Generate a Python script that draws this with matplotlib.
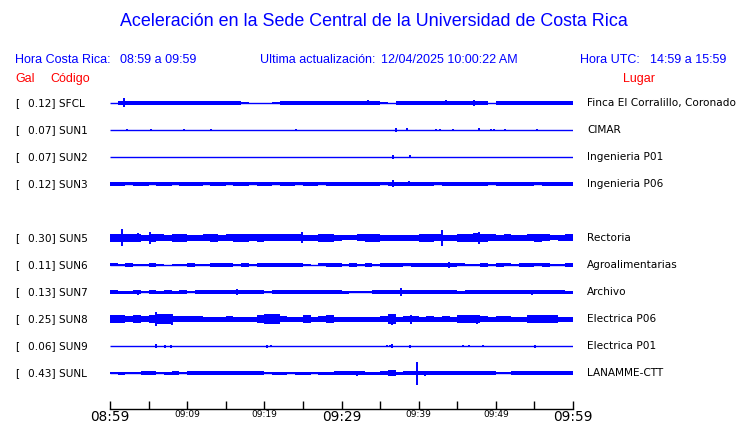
import numpy as np
import matplotlib
matplotlib.use("Agg")
import matplotlib.pyplot as plt
from matplotlib.transforms import blended_transform_factory

# ---------------- data ----------------
codes = ["SFCL", "SUN1", "SUN2", "SUN3", None, "SUN5", "SUN6", "SUN7", "SUN8", "SUN9", "SUNL"]
gal = [0.12, 0.07, 0.07, 0.12, None, 0.30, 0.11, 0.13, 0.25, 0.06, 0.43]
places = ["Finca El Corralillo, Coronado", "CIMAR", "Ingenieria P01", "Ingenieria P06", None,
          "Rectoria", "Agroalimentarias", "Archivo", "Electrica P06", "Electrica P01", "LANAMME-CTT"]

tick_minutes = [0, 10, 20, 30, 40, 50, 60]
tick_labels = ["08:59", "09:09", "09:19", "09:29", "09:39", "09:49", "09:59"]
big_ticks = ["08:59", "09:29", "09:59"]

# per-minute envelope (half amplitude, relative units) for each station
env_SFCL = [0, 2, 2, 2, 2, 1.7, 2, 2, 1.7, 2, 1.7, 2, 2, 1.7, 2, 2, 1.7, 1, 0, 0,
            0, 1, 2, 2, 2, 1.7, 2, 2, 2, 2, 1.7, 2, 2, 2, 2, 0.6, 0, 2, 2, 2,
            2, 2, 2, 2, 2, 2, 2, 2, 2, 0, 1.7, 2, 2, 2, 2, 2, 2, 2, 2, 2]
env_SUN1 = [0] * 60
env_SUN2 = [0] * 60
env_SUN3 = [1.8, 1.8, 1.5, 1.8, 1.8, 1.5, 1.8, 1.8, 1.5, 1.8, 1.8, 1.8, 1.5, 1.8, 1.8, 1.5, 1.8, 1.8, 1.5, 1.8,
            1.8, 1.5, 1.8, 1.8, 1.5, 1.8, 1.8, 1.5, 1.8, 1.8, 1.8, 1.8, 1.8, 1.8, 1.8, 1.5, 1.8, 1.8, 1.8, 1.8,
            1.8, 1.8, 1.5, 1.8, 1.8, 1.8, 1.8, 1.8, 1.8, 1.5, 1.8, 1.8, 1.8, 1.8, 1.8, 1.5, 1.8, 1.8, 1.8, 1.8]
env_SUN5 = [4, 4, 4, 4, 3, 4, 3.5, 3, 4, 4, 3, 3, 3.5, 4, 3, 3.5, 4, 4, 3.5, 4,
            3.5, 3.5, 3.5, 3.5, 3.5, 3, 3, 4, 4, 3, 2.5, 2.5, 3.5, 4, 4, 3, 3, 3, 3, 3,
            4, 4, 3.5, 3, 3, 4, 4, 4.5, 4, 3.5, 3, 3.5, 3, 3, 3.5, 4, 3.5, 2.5, 3, 3.5]
env_SUN6 = [1.5, 1.3, 1.7, 1.1, 1.1, 1.7, 1.4, 0, 1.4, 1.1, 1.7, 1, 1, 2, 1.7, 1.7, 1.3, 2, 1.3, 1.7,
            2, 1.7, 1.7, 1.7, 2, 1.3, 0, 1.5, 2, 2, 1.1, 2, 1, 1.7, 1, 1.7, 1.7, 2, 1.5, 1.7,
            2, 1.7, 2, 1.7, 1.7, 1.5, 1.3, 1.3, 1.7, 1.3, 1.7, 1.5, 1.1, 2, 2, 1.5, 1.7, 1, 1.1, 2]
env_SUN7 = [1.9, 1.5, 1.5, 1.9, 1.4, 1.9, 1.5, 1.9, 1.5, 1.9, 1.3, 1.9, 1.7, 1.7, 1.9, 1.9, 1.9, 1.9, 1.9, 1.9,
            0.8, 1.9, 1.9, 1.9, 1.9, 1.9, 1.9, 1.9, 1.9, 1.9, 1.5, 1.3, 1.4, 1.4, 1.9, 1.9, 1.6, 1.9, 1.9, 1.9,
            1.9, 1.9, 1.9, 1.9, 1.9, 1.5, 1.9, 1.9, 1.9, 1.9, 1.9, 1.9, 1.9, 1.9, 1.9, 1.9, 1.9, 1.9, 1.9, 1.5]
env_SUN8 = [3.8, 3.8, 2.8, 3.8, 2.8, 3.8, 4.7, 4.7, 3.3, 3.3, 3.3, 3.3, 2.5, 2.5, 2.5, 3.3, 2.5, 2.5, 2.5, 4.2,
            4.7, 4.7, 3.3, 2.5, 2.5, 3.8, 2.5, 3.3, 3.8, 2.5, 2.5, 2.5, 2.5, 2.5, 2.5, 3.3, 4.7, 2.5, 3.3, 3.3,
            2.5, 3.3, 2.5, 3.3, 2.5, 4.2, 4.2, 4.2, 3.3, 2.5, 3.3, 3.3, 2.5, 2.5, 4.2, 4.2, 3.8, 3.8, 2.5, 2.5]
env_SUN9 = [0] * 60
env_SUNL = [1.3, 1.5, 1.3, 1.2, 1.8, 1.8, 1.2, 1.5, 1.8, 1.3, 1.8, 1.8, 1.8, 1.8, 1.8, 1.8, 1.8, 1.8, 1.8, 1.8,
            1.2, 1.5, 1.5, 1.3, 1.5, 1.5, 1.3, 1.5, 1.5, 1.8, 1.8, 1.8, 1.8, 1.5, 1.5, 1.8, 2.7, 1.5, 2.2, 1.8,
            1.8, 1.8, 1.8, 1.8, 1.8, 1.8, 1.8, 1.8, 1.8, 1.8, 1.0, 1.2, 1.8, 1.8, 1.8, 1.8, 1.8, 1.8, 1.8, 1.8]

# spikes: (minute, half amplitude)
spk_SFCL = [(1.8, 4.5), (33.4, 2.5), (43.5, 2.5), (47.2, 3.2)]
spk_SUN1 = [(2.2, 1), (5.3, 1.3), (9.6, 1), (13.1, 0.8), (24.1, 1), (37.1, 2), (38.5, 1.5),
            (42.2, 0.8), (42.8, 1), (44.5, 1), (47.8, 1.5), (49.4, 0.8), (49.8, 1), (51.2, 0.8), (55.3, 0.8)]
spk_SUN2 = [(36.7, 2), (38.9, 1.5)]
spk_SUN3 = [(36.7, 3.5), (38.8, 2.5)]
spk_SUN5 = [(1.55, 8.5), (3.6, 4.5), (5.2, 6), (24.9, 5.5), (43.0, 8), (47.8, 6)]
spk_SUN6 = [(43.9, 3)]
spk_SUN7 = [(3.6, 2.5), (16.5, 2.8), (28.8, 2.3), (37.7, 4), (51.2, 2.3), (54.7, 2.5)]
spk_SUN8 = [(5.9, 7), (8.0, 5.5), (36.6, 5.5), (39.0, 4.5), (47.5, 4.5)]
spk_SUN9 = [(5.9, 2), (7.1, 1.5), (7.9, 1.5), (20.3, 1.5), (20.8, 1), (35.9, 0.8), (36.3, 0.8),
            (36.6, 2), (38.9, 1.5), (45.7, 1), (46.5, 1), (48.3, 1), (55.1, 1.5)]
spk_SUNL = [(32.0, 2.5), (36.2, 3), (39.8, 11.5), (40.8, 2.5)]

envelopes = [env_SFCL, env_SUN1, env_SUN2, env_SUN3, None, env_SUN5, env_SUN6, env_SUN7, env_SUN8, env_SUN9, env_SUNL]
spikes = [spk_SFCL, spk_SUN1, spk_SUN2, spk_SUN3, None, spk_SUN5, spk_SUN6, spk_SUN7, spk_SUN8, spk_SUN9, spk_SUNL]

# ---------------- figure ----------------
W, H = 740, 423
fig = plt.figure(figsize=(W / 100, H / 100), dpi=100)
fig.patch.set_facecolor("white")

ax = fig.add_axes([110 / W, 14 / H, 463 / W, 319 / H])
ax.set_xlim(0, 60)
ax.set_ylim(11.333, -0.481)
ax.set_facecolor("none")

BLUE = "#0000ff"
SCALE = 1 / 27.0
minutes = np.arange(61)

for k, (env, spk) in enumerate(zip(envelopes, spikes)):
    if env is None:
        continue
    ax.hlines(k, 0, 60, color=BLUE, lw=1.0)
    e = np.append(np.array(env, dtype=float), env[-1]) * SCALE
    ax.fill_between(minutes, k - e, k + e, step="post", color=BLUE, lw=0, edgecolor="none")
    if spk:
        t = [s[0] for s in spk]
        a = np.array([s[1] for s in spk]) * SCALE
        ax.vlines(t, k - a, k + a, color=BLUE, lw=1.4)

for side in ["top", "left", "right"]:
    ax.spines[side].set_visible(False)
ax.spines["bottom"].set_linewidth(1.0)
ax.set_yticks([])
ax.set_xticks(tick_minutes)
ax.set_xticks(np.arange(5, 60, 10), minor=True)
ax.set_xticklabels(tick_labels)
ax.tick_params(axis="x", which="both", direction="in", length=6, width=1, pad=0.5)
for lab in ax.get_xticklabels():
    lab.set_fontfamily("DejaVu Sans")
    if lab.get_text() in big_ticks:
        lab.set_fontsize(9.8)
    else:
        lab.set_fontsize(6.5)

# ---------------- text ----------------
HFONT = "Liberation Sans"
fig.text(374 / W, 1 - 22 / H, "Aceleración en la Sede Central de la Universidad de Costa Rica",
         ha="center", va="center", color=BLUE, fontsize=12.9, family=HFONT)

hy = 1 - 60 / H
fig.text(15 / W, hy, "Hora Costa Rica:", color=BLUE, fontsize=9, family=HFONT, va="center")
fig.text(120 / W, hy, "08:59 a 09:59", color=BLUE, fontsize=9, family=HFONT, va="center")
fig.text(260 / W, hy, "Ultima actualización:", color=BLUE, fontsize=9, family=HFONT, va="center")
fig.text(381 / W, hy, "12/04/2025 10:00:22 AM", color=BLUE, fontsize=9, family=HFONT, va="center")
fig.text(580 / W, hy, "Hora UTC:", color=BLUE, fontsize=9, family=HFONT, va="center")
fig.text(650 / W, hy, "14:59 a 15:59", color=BLUE, fontsize=9, family=HFONT, va="center")

ry = 1 - 79 / H
fig.text(15 / W, ry, "Gal", color="red", fontsize=9, family=HFONT, va="center")
fig.text(50 / W, ry, "Código", color="red", fontsize=9, family=HFONT, va="center")
fig.text(623 / W, ry, "Lugar", color="red", fontsize=9, family=HFONT, va="center")

tr = blended_transform_factory(fig.transFigure, ax.transData)
LFS = 7.6
for k, (c, g, p) in enumerate(zip(codes, gal, places)):
    if c is None:
        continue
    ax.text(15 / W, k, "[", transform=tr, fontsize=LFS, family="DejaVu Sans", va="center", color="black")
    ax.text(28 / W, k, f"{g:.2f}] {c}", transform=tr, fontsize=LFS, family="DejaVu Sans",
            va="center", color="black")
    ax.text(587 / W, k, p, transform=tr, fontsize=LFS, family="DejaVu Sans", va="center", color="black")

fig.savefig("out.png", dpi=100, facecolor="white")
